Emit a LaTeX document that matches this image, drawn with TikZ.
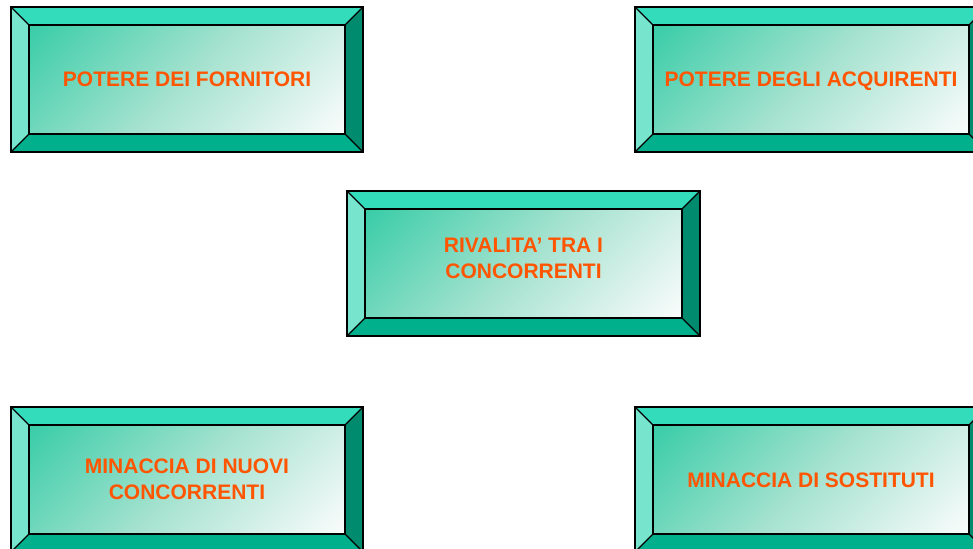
\documentclass[tikz,border=0pt]{standalone}
\usepackage{fontspec}
\setmainfont{Liberation Sans}
\usetikzlibrary{calc}
\definecolor{bevtop}{RGB}{51,221,187}
\definecolor{bevleft}{RGB}{119,228,206}
\definecolor{bevright}{RGB}{0,138,110}
\definecolor{bevbot}{RGB}{0,176,140}
\definecolor{facedark}{RGB}{58,205,168}
\definecolor{facemid}{RGB}{165,226,207}
\definecolor{facelight}{RGB}{250,252,252}
\definecolor{txtor}{RGB}{255,85,0}
\pgfdeclareverticalshading{faceshade}{100bp}{color(0bp)=(facelight); color(15bp)=(facelight); color(50bp)=(facemid); color(85bp)=(facedark); color(100bp)=(facedark)}
\tikzset{
  bevline/.style={draw=black,line width=1.1pt,line join=miter},
  facetext/.style={font=\bfseries\fontsize{21}{26}\selectfont,text=txtor,align=center,inner sep=0pt},
}
% #1 name, #2 x1, #3 y1, #4 x2, #5 y2, #6 text, #7 text y-shift
\newcommand\bevbox[7]{%
  \coordinate (#1-a) at (#2,#3);
  \coordinate (#1-b) at (#4,#3);
  \coordinate (#1-c) at (#4,#5);
  \coordinate (#1-d) at (#2,#5);
  \coordinate (#1-ia) at ($(#1-a)+(18,18)$);
  \coordinate (#1-ib) at ($(#1-b)+(-18,18)$);
  \coordinate (#1-ic) at ($(#1-c)+(-18,-18)$);
  \coordinate (#1-id) at ($(#1-d)+(18,-18)$);
  \fill[bevtop] (#1-a) -- (#1-b) -- (#1-ib) -- (#1-ia) -- cycle;
  \fill[bevright] (#1-b) -- (#1-c) -- (#1-ic) -- (#1-ib) -- cycle;
  \fill[bevbot] (#1-c) -- (#1-d) -- (#1-id) -- (#1-ic) -- cycle;
  \fill[bevleft] (#1-d) -- (#1-a) -- (#1-ia) -- (#1-id) -- cycle;
  \shade[shading=faceshade,shading angle=45] (#1-ia) rectangle (#1-ic);
  \draw[bevline] (#1-a) rectangle (#1-c);
  \draw[bevline] (#1-ia) rectangle (#1-ic);
  \draw[bevline] (#1-a) -- (#1-ia) (#1-b) -- (#1-ib) (#1-c) -- (#1-ic) (#1-d) -- (#1-id);
  \node[facetext] (#1) at ($(#1-a)!0.5!(#1-c)+(0,#7)$) {#6};
}
\begin{document}
\begin{tikzpicture}[x=1pt,y=-1pt]
\useasboundingbox (0,0) rectangle (973,548);
\bevbox{fornitori}{11}{7}{363}{152}{POTERE DEI FORNITORI}{0}
\bevbox{acquirenti}{635}{7}{987}{152}{POTERE DEGLI ACQUIRENTI}{1.5}
\bevbox{rivalita}{347}{191}{700}{336}{RIVALITA’ TRA I\\CONCORRENTI}{-5}
\bevbox{nuovi}{11}{407}{363}{552}{MINACCIA DI NUOVI\\CONCORRENTI}{0}
\bevbox{sostituti}{635}{407}{987}{552}{MINACCIA DI SOSTITUTI}{1}
\end{tikzpicture}
\end{document}
